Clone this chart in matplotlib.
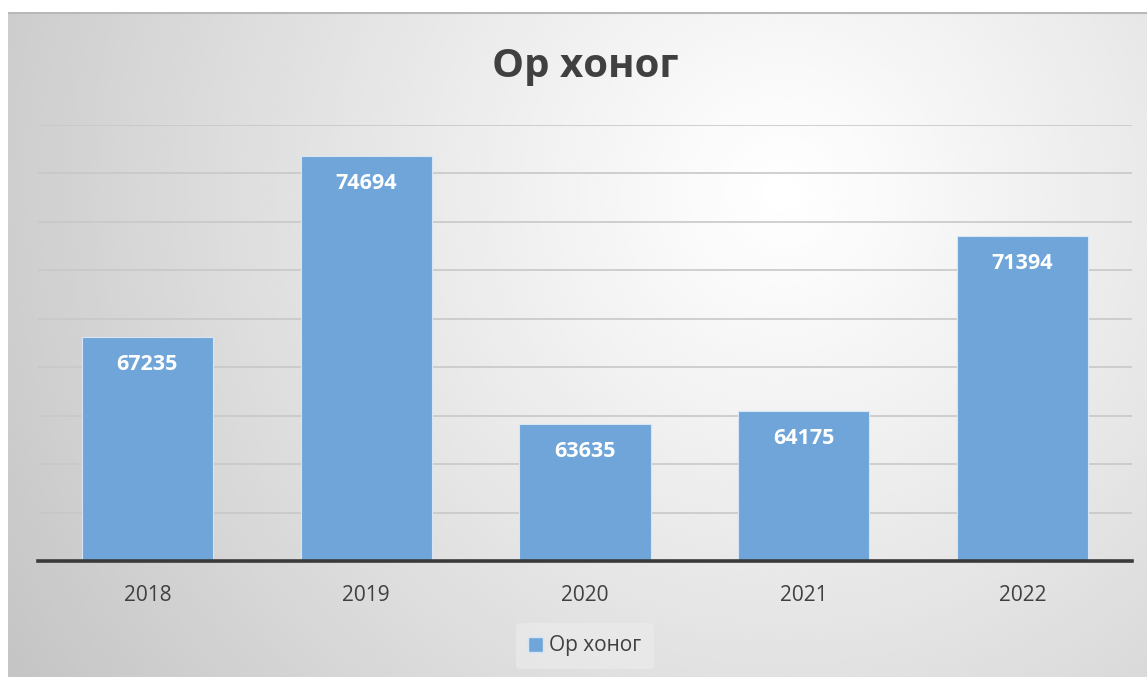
import numpy as np
import matplotlib
matplotlib.use("Agg")
import matplotlib.pyplot as plt
from matplotlib.patches import Patch

# data
years = ["2018", "2019", "2020", "2021", "2022"]
values = [67235, 74694, 63635, 64175, 71394]
series_name = "Ор хоног"
title = "Ор хоног"

bar_color = "#6fa5d8"
text_color = "#404040"
plt.rcParams["font.family"] = ["Open Sans", "DejaVu Sans"]

W, H = 1147, 677
fig = plt.figure(figsize=(W / 100, H / 100), dpi=100)
fig.patch.set_facecolor("white")

# chart area background with radial gradient
bg = fig.add_axes([8 / W, 0, (W - 8) / W, (H - 12) / H])
yy, xx = np.mgrid[0:1:300j, 0:1:500j]
d = np.sqrt(((xx - 0.68) * 1.7) ** 2 + ((yy - 0.27) * 1.0) ** 2)
d = np.clip(d / d.max(), 0, 1)
shade = 1.0 - 0.23 * d ** 1.1
bg.imshow(shade, cmap="gray", vmin=0, vmax=1, aspect="auto",
          extent=[0, 1, 1, 0], interpolation="bicubic")
bg.set_xlim(0, 1)
bg.set_ylim(1, 0)
bg.axis("off")
bg.plot([0, 1], [0.002, 0.002], color="#b8b8b8", lw=1.5)

# plot area
left, right = 38, 1132
top, base = 124.5, 561
ax = fig.add_axes([left / W, (H - base) / H, (right - left) / W, (base - top) / H])
ax.patch.set_alpha(0)

x = np.arange(len(years))
bars = ax.bar(x, values, width=0.6, color=bar_color, edgecolor="#d6e6f5",
              linewidth=0.8, zorder=3)
ax.set_xlim(-0.5, len(years) - 0.5)
ax.set_ylim(58000, 76000)
ax.set_yticks(np.arange(58000, 76001, 2000))
ax.yaxis.grid(True, color="#c8c8c8", lw=1.2, zorder=0)
ax.tick_params(axis="y", left=False, labelleft=False)
ax.set_xticks(x)
ax.set_xticklabels(years, fontsize=15, color=text_color)
ax.tick_params(axis="x", length=0, pad=17)
for s in ["top", "right", "left"]:
    ax.spines[s].set_visible(False)
ax.spines["bottom"].set_color("#3a3a3a")
ax.spines["bottom"].set_linewidth(2.6)
ax.spines["bottom"].set_zorder(4)

for b, v in zip(bars, values):
    ax.annotate(str(v), (b.get_x() + b.get_width() / 2, v),
                xytext=(0, -27), textcoords="offset pixels",
                ha="center", va="center", color="white",
                fontsize=15.5, fontweight="bold", zorder=5)

fig.text(585 / W, 1 - 66 / H, title, ha="center", va="center",
         fontsize=29, fontweight="bold", color=text_color)

leg = fig.legend(handles=[Patch(facecolor=bar_color, edgecolor="#d6e6f5", label=series_name)],
                 loc="center", bbox_to_anchor=(585 / W, 1 - 646 / H),
                 frameon=True, fontsize=15, handlelength=0.7, handleheight=0.7,
                 handletextpad=0.3, borderpad=0.6)
leg.get_frame().set_facecolor("#ededed")
leg.get_frame().set_edgecolor("none")
leg.get_frame().set_alpha(0.6)
for t in leg.get_texts():
    t.set_color(text_color)

fig.savefig("out.png", dpi=100)
